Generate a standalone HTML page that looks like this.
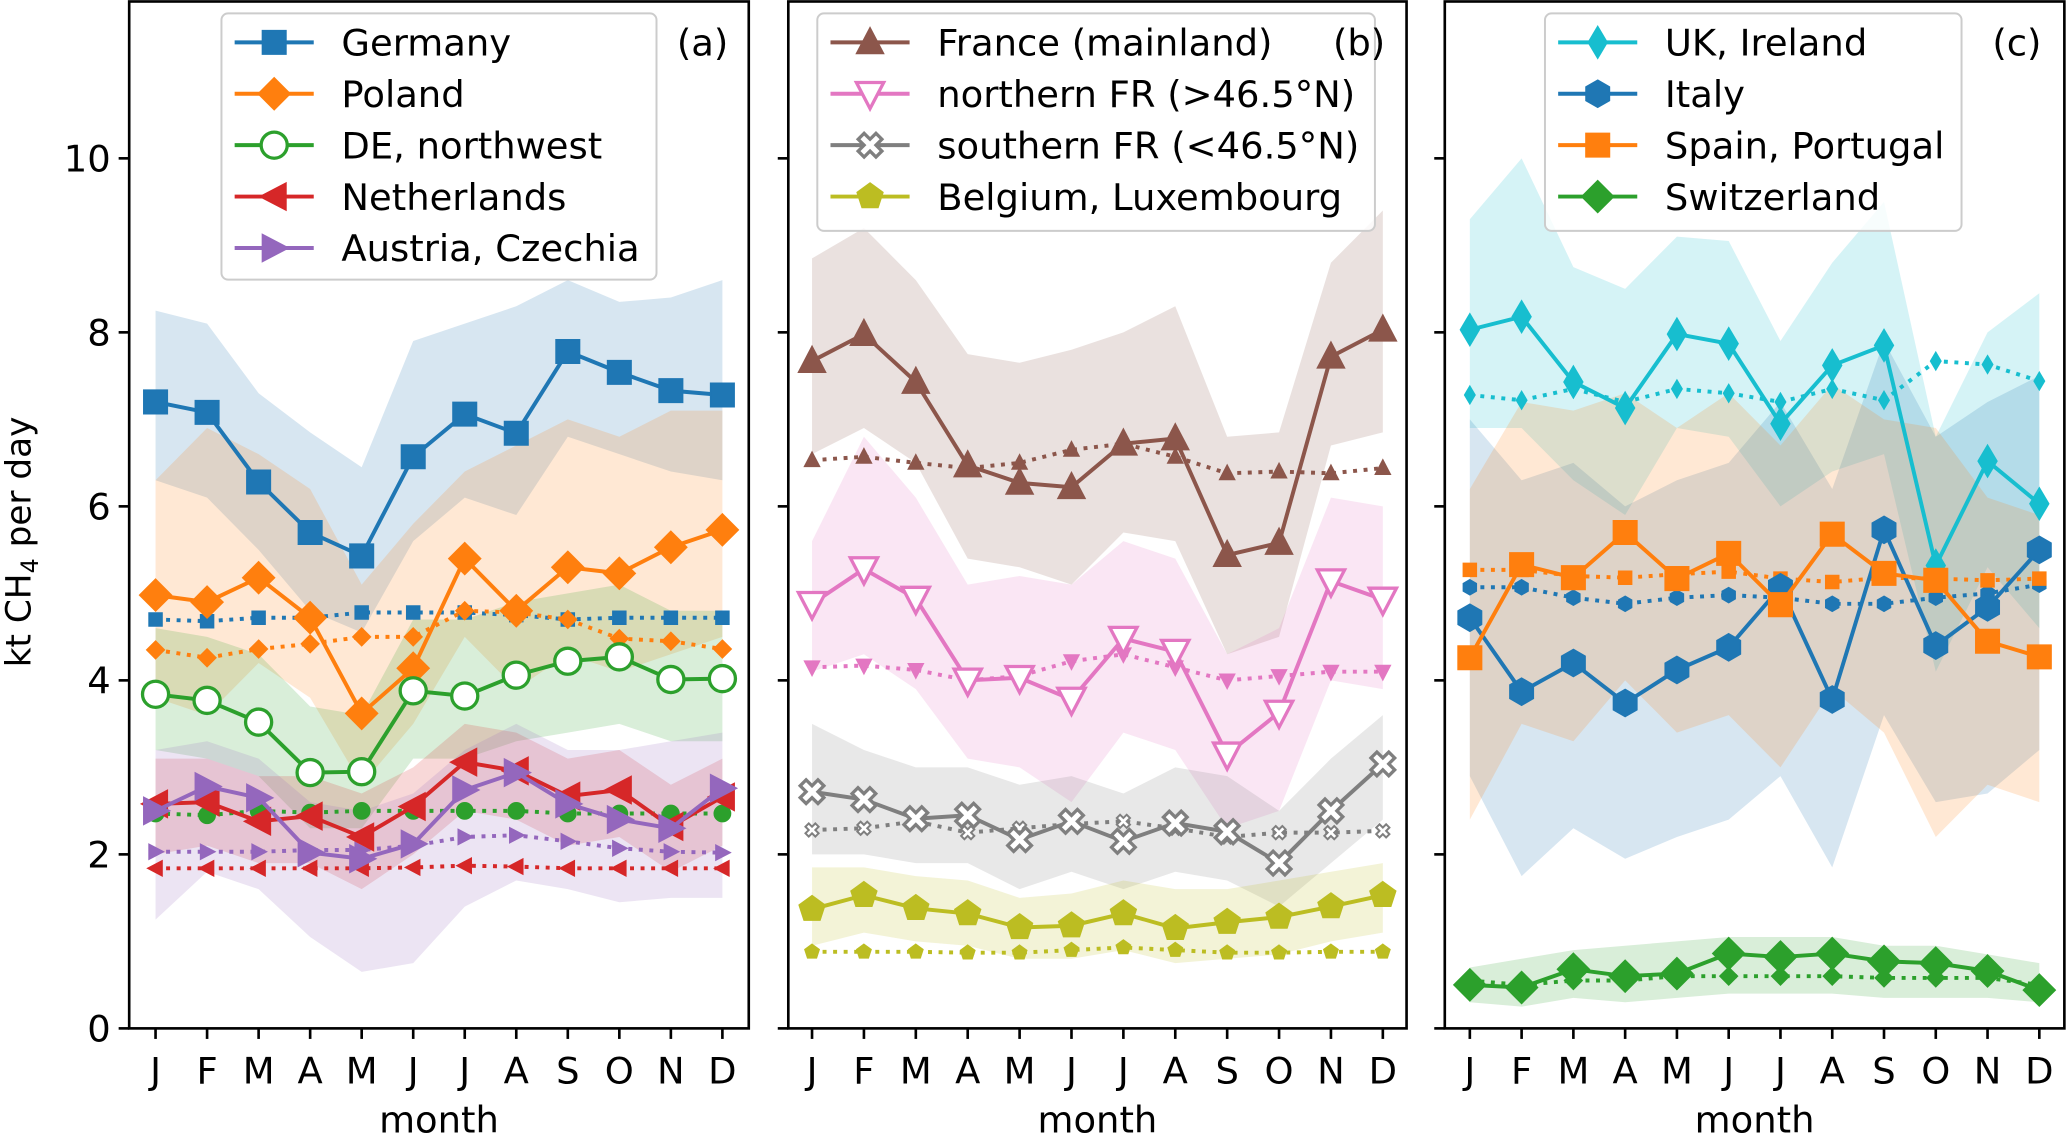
<!DOCTYPE html>
<html><head><meta charset="utf-8"><style>
html,body{margin:0;padding:0;background:#fff;}
svg{display:block;font-family:"DejaVu Sans","Liberation Sans",sans-serif;}
</style></head><body>
<svg id="chart" width="2067" height="1134" viewBox="0 0 1568 860" xmlns="http://www.w3.org/2000/svg"></svg>
<script>
const months = ["J","F","M","A","M","J","J","A","S","O","N","D"];
const yTicks = [0,2,4,6,8,10];
// Panel (a)
const germanyVals = [7.2,7.08,6.28,5.7,5.43,6.57,7.06,6.84,7.78,7.54,7.33,7.28];
const germanyPrior = [4.7,4.68,4.72,4.72,4.78,4.78,4.78,4.75,4.7,4.72,4.72,4.72];
const germanyHi = [8.25,8.1,7.3,6.85,6.45,7.9,8.1,8.3,8.6,8.35,8.4,8.6];
const germanyLo = [6.3,6.1,5.5,4.8,4.55,5.6,6.1,5.9,6.8,6.6,6.4,6.3];
const polandVals = [4.98,4.9,5.18,4.72,3.62,4.14,5.4,4.8,5.3,5.23,5.53,5.73];
const polandPrior = [4.35,4.26,4.36,4.42,4.5,4.5,4.8,4.78,4.7,4.48,4.45,4.36];
const polandHi = [6.3,6.9,6.6,6.2,5.1,5.8,6.4,6.7,7.0,6.8,7.1,7.1];
const polandLo = [3.8,3.6,4.2,3.8,2.8,3.5,4.5,3.9,4.3,4.1,4.3,4.5];
const denwVals = [3.84,3.77,3.52,2.94,2.95,3.88,3.82,4.06,4.22,4.27,4.01,4.02];
const denwPrior = [2.47,2.45,2.5,2.48,2.5,2.5,2.5,2.5,2.47,2.47,2.47,2.47];
const denwHi = [4.6,4.5,4.3,3.7,3.6,4.7,4.7,4.9,5.0,5.1,4.8,4.8];
const denwLo = [3.2,3.1,2.9,2.3,2.3,3.1,3.1,3.3,3.4,3.5,3.3,3.3];
const nlVals = [2.58,2.6,2.38,2.44,2.2,2.55,3.06,2.96,2.67,2.74,2.32,2.66];
const nlPrior = [1.84,1.84,1.84,1.84,1.84,1.85,1.87,1.86,1.84,1.84,1.84,1.84];
const nlHi = [3.1,3.1,2.9,2.9,2.7,3.0,3.5,3.4,3.1,3.2,2.8,3.1];
const nlLo = [2.0,2.1,1.9,1.9,1.6,2.0,2.5,2.4,2.1,2.2,1.8,2.1];
const atVals = [2.5,2.78,2.65,2.02,1.95,2.12,2.74,2.94,2.58,2.4,2.3,2.76];
const atPrior = [2.03,2.03,2.03,2.05,2.05,2.1,2.2,2.22,2.15,2.07,2.03,2.02];
const atHi = [3.2,3.3,3.1,2.6,2.5,2.7,3.2,3.5,3.2,3.2,3.3,3.4];
const atLo = [1.25,1.8,1.6,1.05,0.65,0.75,1.4,1.7,1.6,1.45,1.5,1.5];
// Panel (b)
const frVals = [7.67,7.98,7.43,6.47,6.27,6.22,6.72,6.78,5.44,5.58,7.72,8.03];
const frPrior = [6.53,6.57,6.5,6.44,6.5,6.65,6.72,6.57,6.38,6.4,6.38,6.44];
const frHi = [8.85,9.2,8.6,7.75,7.65,7.8,8.0,8.3,6.8,6.85,8.8,9.4];
const frLo = [6.6,6.9,6.5,5.4,5.3,5.1,5.7,5.6,4.3,4.5,6.7,6.85];
const nfrVals = [4.88,5.28,4.94,4.0,4.03,3.78,4.48,4.33,3.15,3.63,5.14,4.93];
const nfrPrior = [4.15,4.17,4.12,4.0,4.05,4.22,4.3,4.15,4.0,4.05,4.1,4.1];
const nfrHi = [5.6,6.8,6.1,5.1,5.2,5.1,5.6,5.4,4.3,4.6,6.1,6.0];
const nfrLo = [4.1,4.3,3.9,3.1,3.0,2.6,3.4,3.2,2.3,2.5,4.0,3.9];
const sfrVals = [2.72,2.63,2.41,2.45,2.17,2.38,2.15,2.36,2.26,1.9,2.5,3.04];
const sfrPrior = [2.28,2.3,2.38,2.25,2.3,2.35,2.38,2.3,2.2,2.25,2.25,2.27];
const sfrHi = [3.5,3.2,3.0,3.0,2.8,2.9,2.7,3.0,2.9,2.5,3.1,3.6];
const sfrLo = [2.0,2.0,1.9,1.9,1.6,1.8,1.6,1.8,1.7,1.4,1.9,2.4];
const beVals = [1.37,1.53,1.38,1.32,1.16,1.18,1.32,1.15,1.22,1.28,1.4,1.53];
const bePrior = [0.88,0.88,0.88,0.87,0.87,0.9,0.93,0.9,0.87,0.87,0.88,0.88];
const beHi = [1.85,1.85,1.75,1.7,1.5,1.55,1.7,1.6,1.6,1.7,1.8,1.9];
const beLo = [0.95,1.1,1.0,0.95,0.8,0.8,0.9,0.75,0.8,0.85,1.0,1.1];
// Panel (c)
const ukVals = [8.03,8.18,7.43,7.13,7.98,7.87,6.95,7.62,7.85,5.32,6.52,6.03];
const ukPrior = [7.28,7.22,7.35,7.2,7.35,7.3,7.2,7.35,7.22,7.67,7.63,7.44];
const ukHi = [9.3,10.0,8.75,8.5,9.1,9.05,7.9,8.8,9.5,6.8,8.0,8.45];
const ukLo = [6.9,6.9,6.3,5.9,6.9,6.8,6.0,6.4,6.6,4.1,5.3,4.6];
const itVals = [4.72,3.87,4.2,3.74,4.12,4.38,5.07,3.78,5.73,4.4,4.84,5.5];
const itPrior = [5.07,5.07,4.95,4.88,4.95,4.98,4.95,4.88,4.88,4.95,5.0,5.1];
const itHi = [7.0,6.3,6.5,6.0,6.3,6.5,7.2,6.2,7.9,6.8,7.2,7.5];
const itLo = [2.9,1.75,2.3,1.95,2.2,2.4,2.9,1.85,3.6,2.6,2.7,3.2];
const esVals = [4.26,5.33,5.18,5.7,5.17,5.46,4.87,5.68,5.23,5.15,4.45,4.27];
const esPrior = [5.27,5.27,5.2,5.18,5.22,5.25,5.17,5.13,5.18,5.17,5.15,5.17];
const esHi = [6.2,7.2,7.1,7.3,6.9,7.3,6.7,7.4,7.0,6.9,6.1,5.9];
const esLo = [2.4,3.5,3.3,4.0,3.4,3.6,3.0,3.9,3.4,2.2,2.8,2.6];
const chVals = [0.5,0.47,0.68,0.6,0.63,0.86,0.82,0.86,0.77,0.75,0.66,0.44];
const chPrior = [0.55,0.5,0.55,0.55,0.6,0.6,0.6,0.6,0.58,0.58,0.58,0.5];
const chHi = [0.7,0.8,0.9,0.95,1.0,1.05,1.05,1.05,0.95,0.95,0.85,0.75];
const chLo = [0.3,0.25,0.35,0.3,0.35,0.4,0.4,0.4,0.35,0.35,0.35,0.3];

const NS="http://www.w3.org/2000/svg";
const svg=document.getElementById('chart');
function mk(tag,attrs,parent){const e=document.createElementNS(NS,tag);for(const k in attrs)e.setAttribute(k,attrs[k]);(parent||svg).appendChild(e);return e;}
const Y0=780, PXU=66;
function yS(v){return Y0-v*PXU;}
const panels=[
 {x0:98,x1:568,j:118,label:"(a)",lx:533,leg:{x:168,w:330,h:202},series:[
  {n:"Germany",c:"#1f77b4",m:"square",v:germanyVals,p:germanyPrior,hi:germanyHi,lo:germanyLo},
  {n:"Poland",c:"#ff7f0e",m:"diamond",v:polandVals,p:polandPrior,hi:polandHi,lo:polandLo},
  {n:"DE, northwest",c:"#2ca02c",m:"circle",open:true,v:denwVals,p:denwPrior,hi:denwHi,lo:denwLo},
  {n:"Netherlands",c:"#d62728",m:"tleft",v:nlVals,p:nlPrior,hi:nlHi,lo:nlLo},
  {n:"Austria, Czechia",c:"#9467bd",m:"tright",v:atVals,p:atPrior,hi:atHi,lo:atLo}]},
 {x0:598,x1:1067,j:616,label:"(b)",lx:1031,leg:{x:620,w:423,h:165},series:[
  {n:"France (mainland)",c:"#8c564b",m:"tup",v:frVals,p:frPrior,hi:frHi,lo:frLo},
  {n:"northern FR (>46.5°N)",c:"#e377c2",m:"tdown",open:true,v:nfrVals,p:nfrPrior,hi:nfrHi,lo:nfrLo},
  {n:"southern FR (<46.5°N)",c:"#7f7f7f",m:"x",v:sfrVals,p:sfrPrior,hi:sfrHi,lo:sfrLo},
  {n:"Belgium, Luxembourg",c:"#bcbd22",m:"pent",v:beVals,p:bePrior,hi:beHi,lo:beLo}]},
 {x0:1096,x1:1566,j:1115,label:"(c)",lx:1530,leg:{x:1172,w:316,h:165},series:[
  {n:"UK, Ireland",c:"#17becf",m:"thin",v:ukVals,p:ukPrior,hi:ukHi,lo:ukLo},
  {n:"Italy",c:"#1f77b4",m:"hex",v:itVals,p:itPrior,hi:itHi,lo:itLo},
  {n:"Spain, Portugal",c:"#ff7f0e",m:"square",v:esVals,p:esPrior,hi:esHi,lo:esLo},
  {n:"Switzerland",c:"#2ca02c",m:"diamond",v:chVals,p:chPrior,hi:chHi,lo:chLo}]}
];
function marker(g,type,x,y,s,c,open){
 const fill=open?"#fff":c; let e;
 const poly=(pts)=>mk('polygon',{points:pts.map(p=>(x+p[0]*s)+','+(y+p[1]*s)).join(' '),fill:fill,stroke:c,'stroke-width':open?2.5:1},g);
 switch(type){
  case "square":e=poly([[-1,-1],[1,-1],[1,1],[-1,1]]);break;
  case "diamond":e=poly([[0,-1.35],[1.35,0],[0,1.35],[-1.35,0]]);break;
  case "thin":e=poly([[0,-1.35],[0.8,0],[0,1.35],[-0.8,0]]);break;
  case "circle":e=mk('circle',{cx:x,cy:y,r:s*1.1,fill:fill,stroke:c,'stroke-width':2.5},g);break;
  case "tleft":e=poly([[-1.2,0],[1,-1.15],[1,1.15]]);break;
  case "tright":e=poly([[1.2,0],[-1,-1.15],[-1,1.15]]);break;
  case "tup":e=poly([[0,-1.25],[1.15,0.95],[-1.15,0.95]]);break;
  case "tdown":e=poly([[0,1.25],[1.15,-0.95],[-1.15,-0.95]]);break;
  case "pent":{const p=[];for(let i=0;i<5;i++){const a=-Math.PI/2+i*2*Math.PI/5;p.push([1.15*Math.cos(a),1.15*Math.sin(a)]);}e=poly(p);break;}
  case "hex":{const p=[];for(let i=0;i<6;i++){const a=-Math.PI/2+i*Math.PI/3;p.push([1.15*Math.cos(a),1.15*Math.sin(a)]);}e=poly(p);break;}
  case "x":{const w=0.5,p=[[-1,-1+w],[-1+w,-1],[0,-w],[1-w,-1],[1,-1+w],[w,0],[1,1-w],[1-w,1],[0,w],[-1+w,1],[-1,1-w],[-w,0]];e=mk('polygon',{points:p.map(q=>(x+q[0]*s)+','+(y+q[1]*s)).join(' '),fill:"#fff",stroke:c,'stroke-width':s>6?2.5:1.5,'stroke-linejoin':'miter'},g);break;}
 }
 return e;
}
panels.forEach((P,pi)=>{
 const step=(P.x1-P.x0-2*(P.j-P.x0))/11;
 const xS=i=>P.j+i*step;
 const pg=mk('g',{});
 
 
 P.series.forEach(S=>{
  let pts=S.hi.map((v,i)=>xS(i)+','+yS(v)).concat(S.lo.map((v,i)=>[i,v]).reverse().map(a=>xS(a[0])+','+yS(a[1])));
  const b=mk('polygon',{points:pts.join(' '),fill:S.c,'fill-opacity':0.18,stroke:'none'},pg);
  
  
 });
 P.series.forEach(S=>{
  const l=mk('polyline',{points:S.p.map((v,i)=>xS(i)+','+yS(v)).join(' '),fill:'none',stroke:S.c,'stroke-width':3,'stroke-dasharray':'3,5'},pg);
  
  
  S.p.forEach((v,i)=>{const m=marker(pg,S.m,xS(i),yS(v),5,S.c,false);
   
   });
 });
 P.series.forEach(S=>{
  const l=mk('polyline',{points:S.v.map((v,i)=>xS(i)+','+yS(v)).join(' '),fill:'none',stroke:S.c,'stroke-width':3},pg);
  
  
  S.v.forEach((v,i)=>{const m=marker(pg,S.m,xS(i),yS(v),9,S.c,S.open);
   
   });
 });
 const fr=mk('rect',{x:P.x0,y:1,width:P.x1-P.x0,height:Y0-1,fill:'none',stroke:'#000','stroke-width':2},pg);
 
 
 yTicks.forEach(t=>{
  mk('line',{x1:P.x0-8,x2:P.x0,y1:yS(t),y2:yS(t),stroke:'#000','stroke-width':2},pg);
  if(pi===0){const tx=mk('text',{x:P.x0-14,y:yS(t)+10,'text-anchor':'end','font-size':28},pg);tx.textContent=t;
   
   }
 });
 months.forEach((m,i)=>{
  mk('line',{x1:xS(i),x2:xS(i),y1:Y0,y2:Y0+8,stroke:'#000','stroke-width':2},pg);
  const tx=mk('text',{x:xS(i),y:Y0+42,'text-anchor':'middle','font-size':28},pg);tx.textContent=m;
  
  
 });
 const xt=mk('text',{x:(P.x0+P.x1)/2,y:859,'text-anchor':'middle','font-size':28},pg);xt.textContent="month";
 
 
 const L=P.leg;
 const lg=mk('g',{},pg);
 
 
 mk('rect',{x:L.x,y:10,width:L.w,height:L.h,rx:5,fill:'#fff','fill-opacity':0.8,stroke:'#ccc','stroke-width':1.5},lg);
 P.series.forEach((S,k)=>{
  const yy=32+k*39;
  const eg=mk('g',{},lg);
  
  
  mk('line',{x1:L.x+10,x2:L.x+70,y1:yy,y2:yy,stroke:S.c,'stroke-width':3},eg);
  marker(eg,S.m,L.x+40,yy,9,S.c,S.open);
  const t=mk('text',{x:L.x+91,y:yy+10,'font-size':28},eg);t.textContent=S.n;
 });
 const pl=mk('text',{x:P.lx,y:42,'text-anchor':'middle','font-size':28},pg);pl.textContent=P.label;
 
 
});
const yl=mk('text',{x:0,y:0,'text-anchor':'middle','font-size':26,transform:'translate(23,411) rotate(-90)'});


yl.innerHTML='kt CH<tspan font-size="18" dy="6">4</tspan><tspan dy="-6"> per day</tspan>';
</script>
</body></html>
